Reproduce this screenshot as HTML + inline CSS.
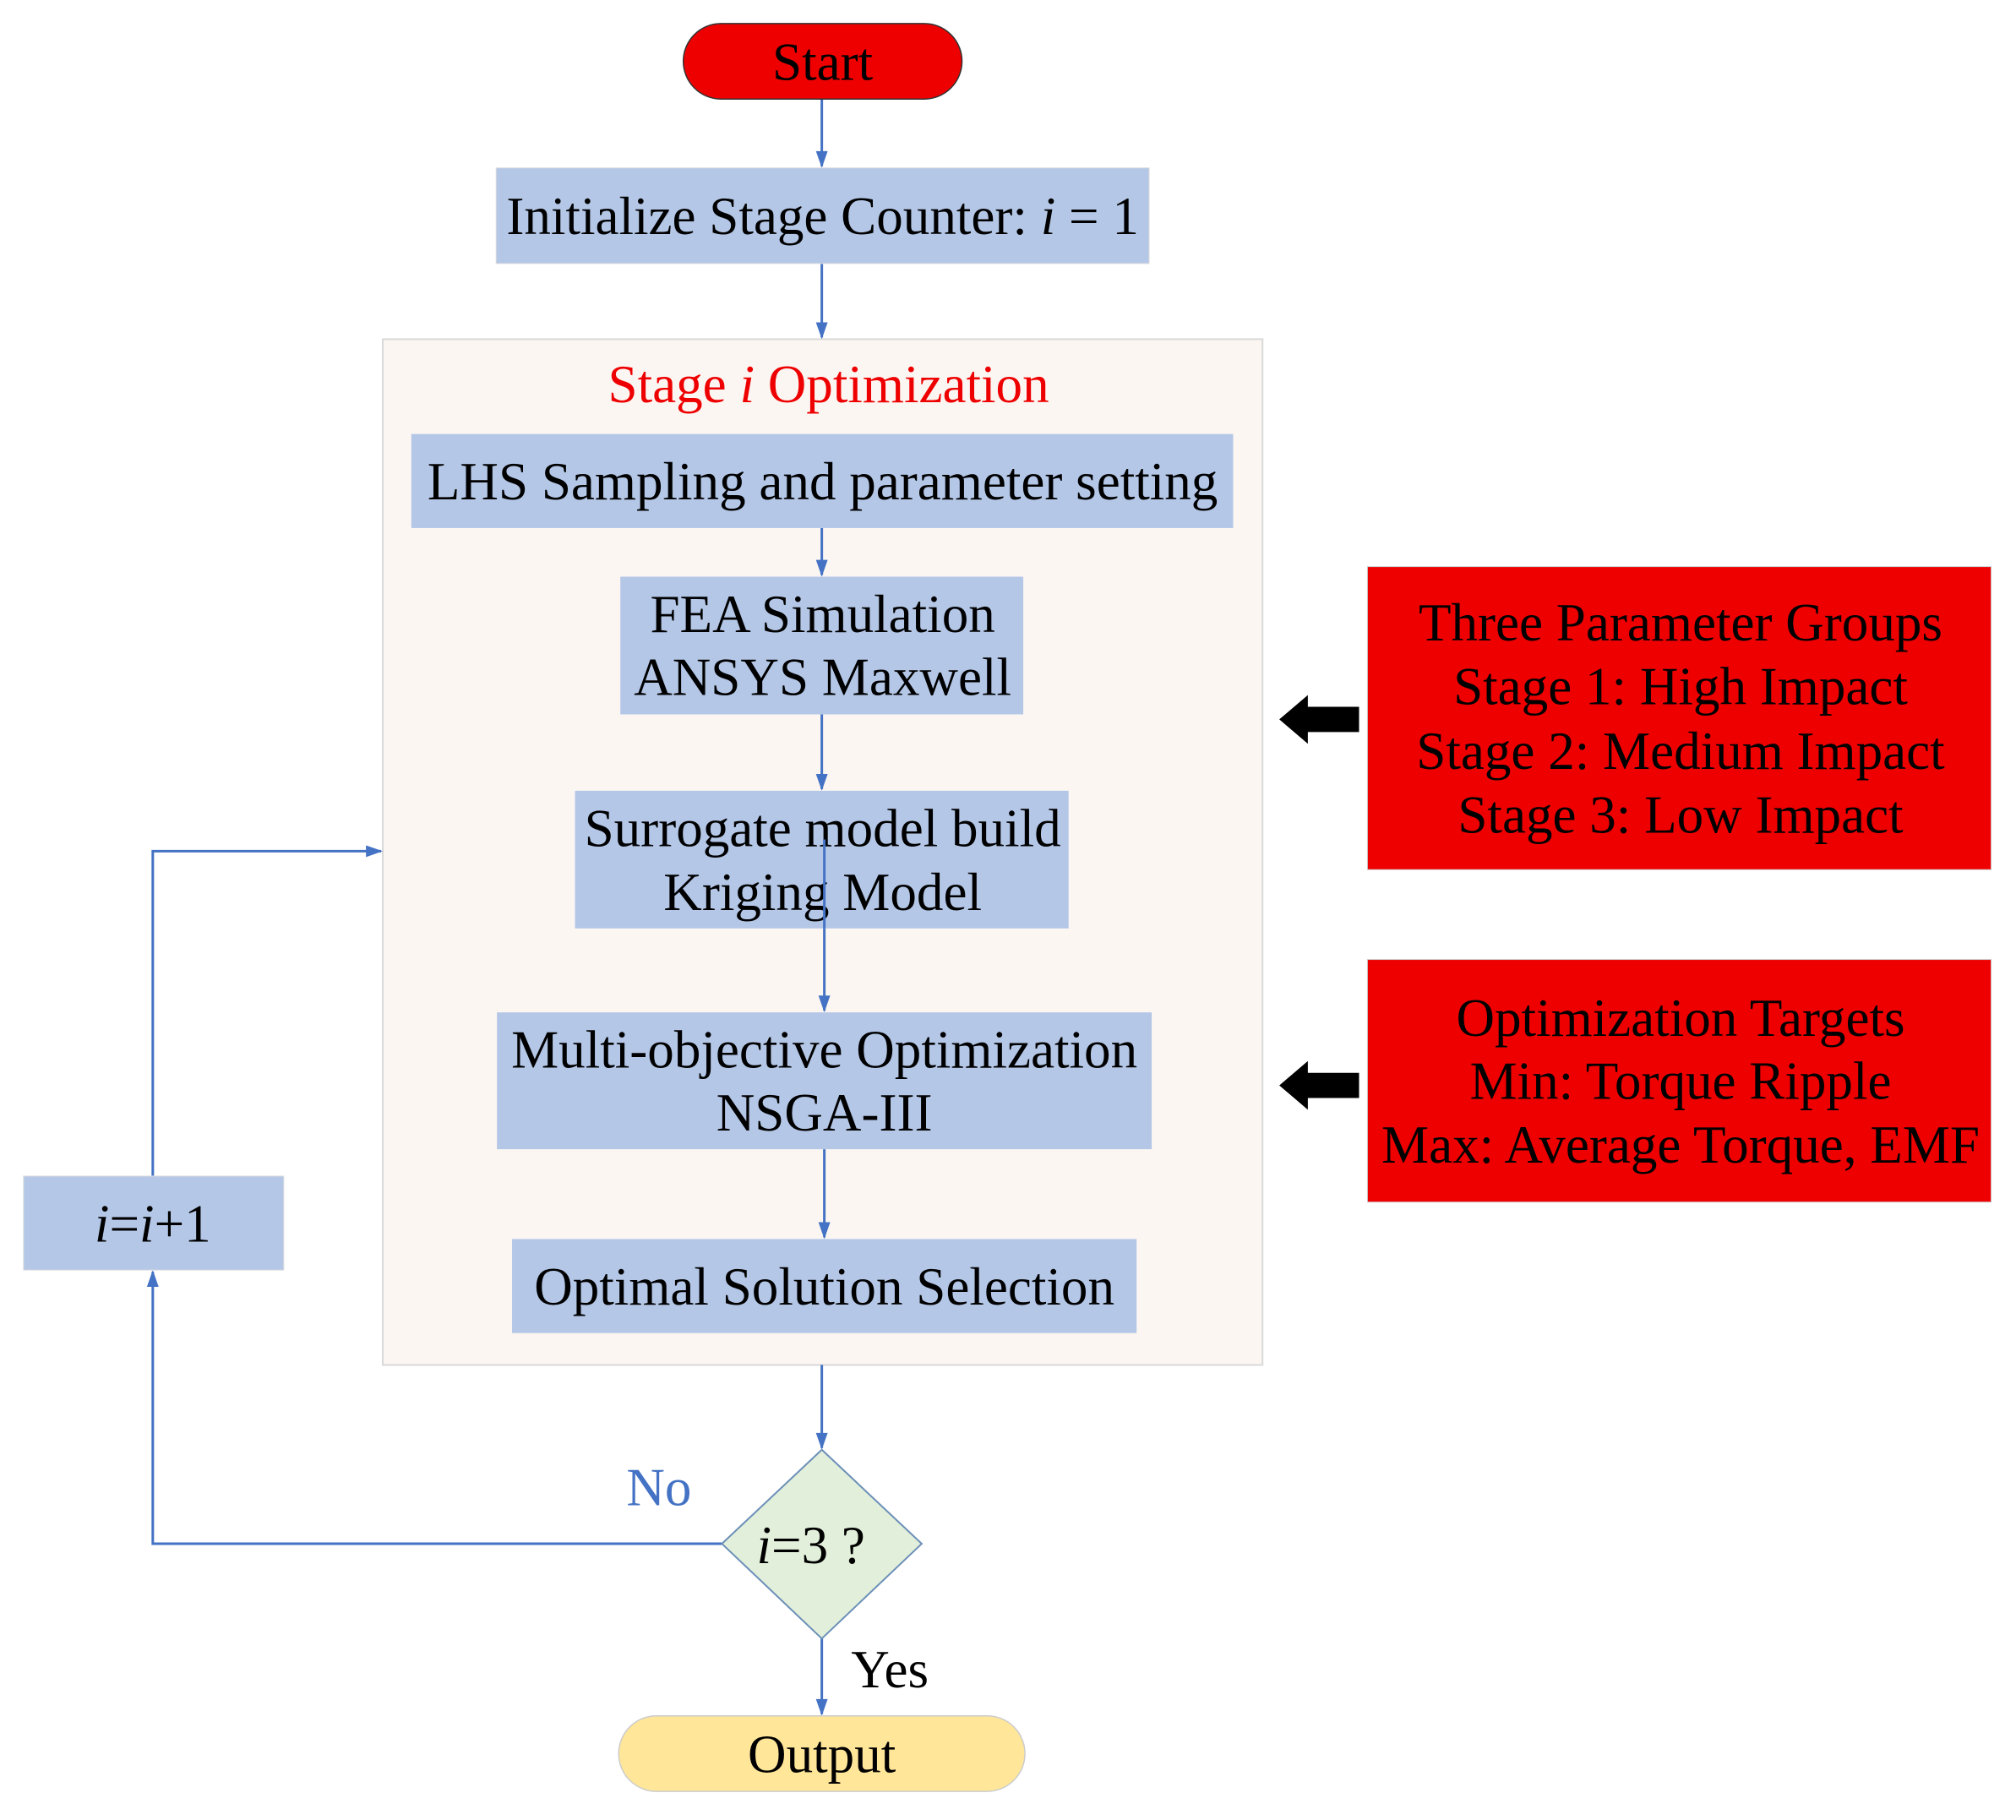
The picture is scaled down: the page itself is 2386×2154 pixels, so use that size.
<!DOCTYPE html>
<html><head><meta charset="utf-8"><style>html,body{margin:0;padding:0;background:#fff}svg{display:block}</style></head>
<body>
<svg width="2386" height="2154" viewBox="0 0 2386 2154" xmlns="http://www.w3.org/2000/svg" font-family="Liberation Serif, serif">
<g transform="scale(0.9935)">
<rect x="456" y="404" width="1048" height="1222" fill="#fbf6f2" stroke="#d9d9d9" stroke-width="2"/>
<g stroke="#4472c4" stroke-width="3" fill="none">
<line x1="979" y1="118" x2="979" y2="198"/>
<line x1="979" y1="314" x2="979" y2="402"/>
<line x1="979" y1="629" x2="979" y2="685"/>
<line x1="979" y1="851" x2="979" y2="940"/>
<line x1="982" y1="1000" x2="982" y2="1204"/>
<line x1="982" y1="1369" x2="982" y2="1474"/>
<line x1="979" y1="1626" x2="979" y2="1725"/>
<line x1="979" y1="1952" x2="979" y2="2042"/>
<polyline points="860,1839 182,1839 182,1515"/>
<polyline points="182,1401 182,1014 454,1014"/>
</g>
<g fill="#4472c4">
<path d="M972,180 L986,180 L979,200 z"/>
<path d="M972,384 L986,384 L979,404 z"/>
<path d="M972,667 L986,667 L979,687 z"/>
<path d="M972,922 L986,922 L979,942 z"/>
<path d="M975,1186 L989,1186 L982,1206 z"/>
<path d="M975,1456 L989,1456 L982,1476 z"/>
<path d="M972,1707 L986,1707 L979,1727 z"/>
<path d="M972,2024 L986,2024 L979,2044 z"/>
<path d="M175,1533 L189,1533 L182,1513 z"/>
<path d="M436,1007 L436,1021 L456,1014 z"/>
</g>
<rect x="814" y="28" width="332" height="90" rx="45" fill="#ee0000" stroke="#333" stroke-width="1.5"/>
<text x="980" y="95" font-size="63.5" text-anchor="middle">Start</text>
<rect x="591" y="200" width="778" height="114" fill="#b4c7e7" stroke="#ddd"/>
<text x="980" y="279" font-size="63.5" text-anchor="middle">Initialize Stage Counter: <tspan font-style="italic">i</tspan> = 1</text>
<text x="987" y="479" font-size="63.5" text-anchor="middle" fill="#ee0000">Stage <tspan font-style="italic">i</tspan> Optimization</text>
<rect x="490" y="517" width="979" height="112" fill="#b4c7e7"/>
<text x="980" y="595" font-size="63.5" text-anchor="middle">LHS Sampling and parameter setting</text>
<rect x="739" y="687" width="480" height="164" fill="#b4c7e7"/>
<text x="980" y="753" font-size="63.5" text-anchor="middle">FEA Simulation</text>
<text x="980" y="828" font-size="63.5" text-anchor="middle">ANSYS Maxwell</text>
<rect x="685" y="942" width="588" height="164" fill="#b4c7e7"/>
<text x="980" y="1008" font-size="63.5" text-anchor="middle">Surrogate model build</text>
<text x="980" y="1084" font-size="63.5" text-anchor="middle">Kriging Model</text>
<line x1="982" y1="1000" x2="982" y2="1106" stroke="#4472c4" stroke-width="3"/>
<rect x="592" y="1206" width="780" height="163" fill="#b4c7e7"/>
<text x="982" y="1272" font-size="63.5" text-anchor="middle">Multi-objective Optimization</text>
<text x="982" y="1347" font-size="63.5" text-anchor="middle">NSGA-III</text>
<rect x="610" y="1476" width="744" height="112" fill="#b4c7e7"/>
<text x="982" y="1554" font-size="63.5" text-anchor="middle">Optimal Solution Selection</text>
<polygon points="979,1727 1098,1839 979,1952 860,1839" fill="#e2efda" stroke="#6b8fb8" stroke-width="2"/>
<text x="966" y="1862" font-size="63.5" text-anchor="middle"><tspan font-style="italic">i</tspan>=3 ?</text>
<text x="785" y="1793" font-size="63.5" text-anchor="middle" fill="#4472c4">No</text>
<text x="1060" y="2010" font-size="63.5" text-anchor="middle">Yes</text>
<rect x="737" y="2044" width="484" height="90" rx="45" fill="#ffe699" stroke="#ccc" stroke-width="1.5"/>
<text x="979" y="2111" font-size="63.5" text-anchor="middle">Output</text>
<rect x="28" y="1401" width="310" height="112" fill="#b4c7e7" stroke="#ddd"/>
<text x="182" y="1479" font-size="63.5" text-anchor="middle"><tspan font-style="italic">i</tspan>=<tspan font-style="italic">i</tspan>+1</text>
<rect x="1629" y="675" width="743" height="361" fill="#ee0000" stroke="#ccc"/>
<g font-size="63.5" text-anchor="middle">
<text x="2002" y="763">Three Parameter Groups</text>
<text x="2002" y="839">Stage 1: High Impact</text>
<text x="2002" y="916">Stage 2: Medium Impact</text>
<text x="2002" y="992">Stage 3: Low Impact</text>
</g>
<rect x="1629" y="1143" width="743" height="289" fill="#ee0000" stroke="#ccc"/>
<g font-size="63.5" text-anchor="middle">
<text x="2002" y="1234">Optimization Targets</text>
<text x="2002" y="1309">Min: Torque Ripple</text>
<text x="2002" y="1385">Max: Average Torque, EMF</text>
</g>
<path d="M1619,842 L1558,842 L1558,828 L1524,857 L1558,886 L1558,872 L1619,872 z" fill="#000"/>
<path d="M1619,1278 L1558,1278 L1558,1264 L1524,1293 L1558,1322 L1558,1308 L1619,1308 z" fill="#000"/>
</g>
</svg>
</body></html>
